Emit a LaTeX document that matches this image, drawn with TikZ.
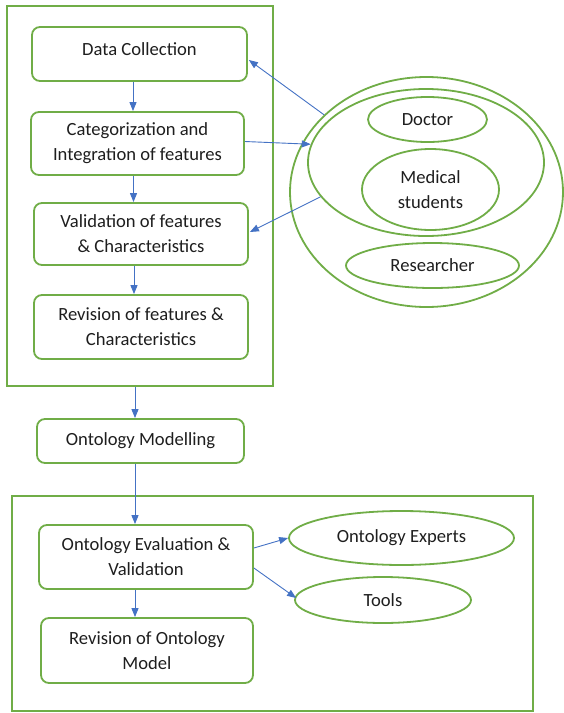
\documentclass[tikz,border=0pt]{standalone}
\usepackage{fontspec}
\setmainfont{Carlito}
\usetikzlibrary{shapes.geometric,arrows.meta}
\definecolor{officegreen}{RGB}{112,173,71}
\definecolor{officeblue}{RGB}{68,114,196}
\definecolor{textgray}{RGB}{30,30,30}
\begin{document}
\begin{tikzpicture}[x=1pt,y=-1pt,
  every node/.style={font=\fontsize{18.6}{25}\selectfont,text=textgray},
  stepbox/.style={draw=officegreen,line width=1.8pt,rounded corners=8pt,
    rectangle,align=center,inner sep=0pt},
  groupbox/.style={draw=officegreen,line width=1.8pt,rectangle,inner sep=0pt},
  actor/.style={draw=officegreen,line width=1.8pt,ellipse,align=center,inner sep=0pt},
  arr/.style={draw=officeblue,line width=0.9pt,-{Triangle[length=9pt,width=7pt]}}]
\useasboundingbox (0,0) rectangle (563,713);

% knowledge acquisition group
\node[groupbox,minimum width=266pt,minimum height=380pt] (topgrp) at (140,196) {};
\node[stepbox,minimum width=215pt,minimum height=54pt,text depth=10pt] (dc) at (139.5,54) {Data Collection};
\node[stepbox,minimum width=213pt,minimum height=63pt] (cat) at (137.5,143.5) {Categorization and\\Integration of features};
\node[stepbox,minimum width=214pt,minimum height=62pt] (val) at (141,234) {Validation of features\\\& Characteristics};
\node[stepbox,minimum width=214pt,minimum height=64pt] (rev) at (141,327) {Revision of features \&\\Characteristics};

% stakeholders
\node[actor,minimum width=273pt,minimum height=230pt] (grp) at (426.5,192) {};
\node[actor,minimum width=236pt,minimum height=147pt] (mid) at (426,162.5) {};
\node[actor,minimum width=119pt,minimum height=45pt] (doc) at (427.5,119.5) {Doctor};
\node[actor,minimum width=137pt,minimum height=81pt] (med) at (430.5,189.5) {Medical\\students};
\node[actor,minimum width=173pt,minimum height=45pt] (res) at (432.5,265.5) {Researcher};

% modelling
\node[stepbox,minimum width=207pt,minimum height=44pt] (om) at (140.5,441) {Ontology Modelling};

% evaluation group
\node[groupbox,minimum width=521pt,minimum height=215pt] (botgrp) at (272.5,603.5) {};
\node[stepbox,minimum width=214pt,minimum height=64pt] (oev) at (146,557) {Ontology Evaluation \&\\Validation};
\node[stepbox,minimum width=212pt,minimum height=65pt] (rom) at (147,650.5) {Revision of Ontology\\Model};
\node[actor,minimum width=225pt,minimum height=54pt] (oe) at (401.5,538) {Ontology Experts};
\node[actor,minimum width=176pt,minimum height=46pt] (tools) at (383,600) {Tools};

% flow
\draw[arr] ([xshift=-6.5pt]dc.south) -- ([xshift=-4.5pt]cat.north);
\draw[arr] ([xshift=-4pt]cat.south) -- ([xshift=-7.5pt]val.north);
\draw[arr] ([xshift=-7pt]val.south) -- ([xshift=-7pt]rev.north);
\draw[arr] ([xshift=-5pt]topgrp.south) -- ([xshift=-5.5pt]om.north);
\draw[arr] ([xshift=-5.5pt]om.south) -- ([xshift=-11pt]oev.north);
\draw[arr] ([xshift=-11pt]oev.south) -- ([xshift=-12pt]rom.north);

% interaction with stakeholders
\draw[arr] (grp.143) -- ([yshift=-6pt,xshift=1pt]dc.east);
\draw[arr] ([yshift=2pt]cat.east) -- (mid.171);
\draw[arr] (mid.198) -- ([yshift=2pt,xshift=1pt]val.east);
\draw[arr] ([yshift=9pt]oev.east) -- (oe.west);
\draw[arr] ([yshift=-11pt]oev.east) -- ([xshift=2pt,yshift=2pt]tools.west);
\end{tikzpicture}
\end{document}
